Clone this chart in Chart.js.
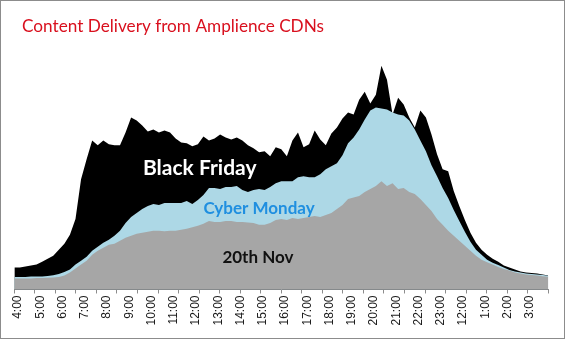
<!DOCTYPE html>
<html>
<head>
<meta charset="utf-8">
<script src="https://cdn.jsdelivr.net/npm/chart.js@4.4.1/dist/chart.umd.min.js"></script>
<style>
    html, body { margin: 0; padding: 0; background: #fff; }
    #frame {
        position: absolute; left: 0; top: 0;
        width: 565px; height: 339px;
        box-sizing: border-box;
        border: 1px solid #8c8c8c;
        pointer-events: none;
    }
    #chartContainer { position: absolute; left: 0; top: 0; width: 566px; height: 340px; }
</style>
</head>
<body>
<div id="chartContainer"><canvas id="area-chart" width="566" height="340"></canvas></div>
<div id="frame"></div>
<script>
// hour labels along the bottom, starting at 4am
var hourLabels = ['4:00', '5:00', '6:00', '7:00', '8:00', '9:00', '10:00', '11:00', '12:00', '13:00',
    '14:00', '15:00', '16:00', '17:00', '18:00', '19:00', '20:00', '21:00', '22:00', '23:00',
    '12:00', '1:00', '2:00', '3:00'];

// samples are every 15 minutes, first one 10 minutes before 4:00 (minutes since 4:00)
var sampleStart = -10;
var sampleStep = 15;

// traffic, same arbitrary unit for all three days
var blackFriday = [22, 22, 23, 24, 25, 28, 31, 34, 40, 46,
    55, 71, 111, 131, 150, 145, 150, 146, 145, 145,
    158, 173, 170, 165, 159, 161, 158, 160, 158, 152,
    148, 147, 144, 146, 154, 150, 152, 156, 153, 151,
    153, 150, 145, 142, 138, 139, 134, 143, 141, 134,
    150, 158, 143, 146, 160, 151, 145, 157, 163, 172,
    178, 176, 191, 199, 187, 196, 225, 211, 176, 193,
    186, 173, 163, 180, 173, 156, 136, 121, 119, 99,
    84, 70, 57, 47, 40, 35, 31, 28, 24, 22,
    20, 18, 17, 16.5, 16, 15, 14];

var cyberMonday = [12.5, 12.5, 12.5, 13, 13, 13, 13.5, 14.3, 15.5, 17.5,
    20, 25, 29, 33, 39, 43, 47, 50, 54, 59,
    67, 73, 77, 81, 84, 86, 85, 87, 87, 87,
    87, 89, 86, 90, 95, 102, 102, 101, 103, 103,
    104, 100, 98, 100, 101, 100, 103, 107, 109, 109,
    109, 113, 114, 113, 113, 116, 121, 124, 127, 135,
    147, 153, 161, 171, 180, 183, 182, 181, 178, 176,
    175, 170, 161, 150, 139, 125, 114, 102, 92, 80,
    69, 58, 48, 40, 35, 30, 27, 24.5, 22, 19.5,
    18, 17, 16, 15.5, 15, 14.5, 13.7];

var nov20 = [11, 11, 11, 11, 11.5, 11.5, 11.7, 12, 12.5, 14,
    17, 21, 25, 29, 35, 39, 42, 45, 46, 49,
    52, 54, 56, 57, 58, 59, 59, 58.5, 59, 59,
    60, 61, 62.5, 64, 66, 69, 68, 68, 69, 69,
    68, 68, 67.5, 67, 65, 65, 67, 70, 71, 70,
    72, 71, 72, 73, 74, 73, 75, 77, 81, 85,
    91, 92.5, 94, 98, 101, 104, 109, 104, 107, 101,
    102, 98, 96, 91, 85, 79, 71, 65, 59, 54,
    49, 44, 39, 34, 30, 27.5, 25, 22.5, 20.5, 19,
    17, 16, 15, 14.5, 14, 13.3, 12.7];

// in-chart series names: [text, minute, value, font, colour]
var seriesNames = [
    ['Black Friday', 490, 122, 'bold 21px Lato', '#ffffff'],
    ['Cyber Monday', 650, 81, 'bold 17px Lato', '#1f8fe0'],
    ['20th Nov', 647, 32, 'bold 17px Lato', '#111111']
];

var chartTitle = 'Content Delivery from Amplience CDNs';

var axisMin = -10;
var axisMax = 1430;

function toPoints(values) {
    return values.map(function (v, i) {
        return { x: sampleStart + i * sampleStep, y: v };
    });
}

function areaDataset(label, values, colour, order) {
    return {
        label: label,
        data: toPoints(values),
        backgroundColor: colour,
        borderColor: 'rgba(0,0,0,0)',
        borderWidth: 0,
        pointRadius: 0,
        tension: 0,
        fill: 'origin',
        order: order
    };
}

// title and the series names written over the areas
var textPlugin = {
    id: 'chartText',
    afterDatasetsDraw: function (chart) {
        var c = chart.ctx;
        var xs = chart.scales.x;
        var ys = chart.scales.y;
        c.save();
        c.textAlign = 'left';
        c.textBaseline = 'middle';
        c.font = '17.2px Lato';
        c.fillStyle = '#d9101e';
        c.fillText(chartTitle, 22, 26);
        c.textAlign = 'center';
        seriesNames.forEach(function (s) {
            c.font = s[3];
            c.fillStyle = s[4];
            c.fillText(s[0], xs.getPixelForValue(s[1]), ys.getPixelForValue(s[2]));
        });
        c.restore();
    }
};

var ctx = document.getElementById('area-chart').getContext('2d');
var chart = new Chart(ctx, {
    type: 'line',
    data: {
        datasets: [
            areaDataset('20th Nov', nov20, '#a6a6a6', 1),
            areaDataset('Cyber Monday', cyberMonday, '#add8e6', 2),
            areaDataset('Black Friday', blackFriday, '#000000', 3)
        ]
    },
    options: {
        responsive: false,
        animation: false,
        layout: {
            padding: { left: 14.3, right: 17.7, top: 41, bottom: 12.5 }
        },
        plugins: {
            legend: { display: false },
            title: { display: false },
            tooltip: { enabled: false }
        },
        scales: {
            // tick marks only, 26 divisions across the day
            x: {
                type: 'linear',
                min: axisMin,
                max: axisMax,
                weight: 0,
                grid: { display: true, drawOnChartArea: false, drawTicks: true, tickLength: 4, color: '#8c8c8c' },
                border: { display: true, color: '#8c8c8c' },
                ticks: { display: false, stepSize: (axisMax - axisMin) / 26, autoSkip: false }
            },
            // hour labels
            xLabels: {
                type: 'linear',
                axis: 'x',
                position: 'bottom',
                min: axisMin,
                max: axisMax,
                weight: 1,
                grid: { display: false, drawTicks: false },
                border: { display: false },
                afterBuildTicks: function (scale) {
                    scale.ticks = hourLabels.map(function (l, i) { return { value: i * 60 }; });
                },
                ticks: {
                    autoSkip: false,
                    maxRotation: 90,
                    minRotation: 90,
                    padding: 2,
                    color: '#1a1a1a',
                    font: { family: 'Liberation Sans', size: 12 },
                    callback: function (value, index) { return hourLabels[index]; }
                }
            },
            y: {
                display: false,
                min: 0,
                max: 250
            }
        }
    },
    plugins: [textPlugin]
});
</script>
</body>
</html>
